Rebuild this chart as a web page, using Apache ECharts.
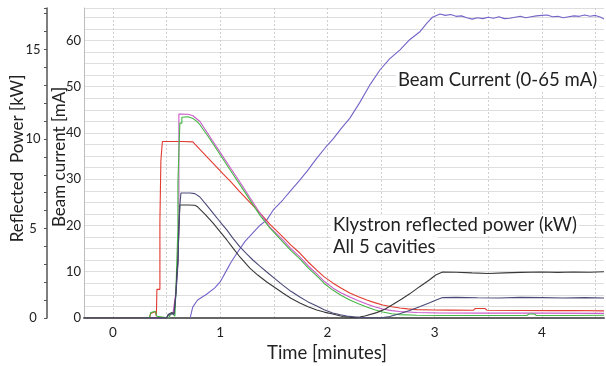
<!DOCTYPE html>
<html>
<head>
<meta charset="utf-8">
<script src="https://cdn.jsdelivr.net/npm/echarts@6/dist/echarts.min.js"></script>
<style>
  html, body { margin: 0; padding: 0; background: #fff; }
  #chart { width: 606px; height: 366px; }
</style>
</head>
<body>
<div id="chart"></div>
<script>
const FONT = 'Lato, "Open Sans", "Noto Sans", sans-serif';

// Axis ticks
const timeLabels = [0, 1, 2, 3, 4];
const timeGrid = [0, 0.5, 1, 1.5, 2, 2.5, 3, 3.5, 4, 4.5];
const powerLabels = [0, 5, 10, 15];
const currentLabels = [0, 10, 20, 30, 40, 50, 60];

// Beam current [mA] vs time [minutes]
const beamCurrent = [
  [0.72, 0], [0.735, 1.5], [0.745, 2.4], [0.79, 3.9], [0.876, 5.2], [0.95, 6.5], [1.0, 7.8],
  [1.062, 10.4], [1.10, 12.0], [1.156, 14.0], [1.23, 16.5], [1.305, 18.4], [1.37, 20.0],
  [1.435, 21.2], [1.50, 23.5], [1.584, 25.5], [1.66, 27.6], [1.743, 29.8], [1.82, 32.0],
  [1.90, 34.5], [1.98, 36.8], [2.05, 38.6], [2.13, 41.0], [2.21, 43.2], [2.30, 46.5],
  [2.40, 50.5], [2.49, 53.6], [2.58, 56.0], [2.675, 57.9], [2.77, 60.2], [2.86, 61.8],
  [2.93, 63.8], [2.98, 65.0], [3.05, 65.7], [3.10, 65.4], [3.15, 65.6], [3.20, 65.2],
  [3.25, 65.3], [3.30, 64.9], [3.35, 64.6], [3.40, 64.9], [3.45, 64.7], [3.50, 65.0],
  [3.55, 64.8], [3.60, 65.1], [3.65, 64.7], [3.70, 64.8], [3.75, 65.0], [3.80, 65.2],
  [3.85, 64.9], [3.90, 65.1], [3.95, 65.3], [4.00, 65.4], [4.05, 65.5], [4.10, 65.1],
  [4.15, 65.2], [4.20, 64.9], [4.25, 65.1], [4.30, 65.3], [4.35, 65.2], [4.40, 65.5],
  [4.45, 65.2], [4.50, 65.4], [4.55, 65.0], [4.58, 64.6]
];

// Klystron reflected power [kW], one trace per cavity
const cavityRed = [
  [-0.27, 0], [0.34, 0], [0.352, 0.25], [0.365, 0.35], [0.395, 0.35], [0.405, 0.1], [0.41, 0],
  [0.41, 1.6], [0.438, 1.6], [0.438, 5.4], [0.447, 5.4], [0.447, 8.8], [0.461, 8.8], [0.461, 9.86],
  [0.65, 9.86], [0.746, 9.84], [0.764, 9.72], [0.811, 9.42], [0.87, 9.05], [0.932, 8.65],
  [1.025, 8.06], [1.10, 7.6], [1.184, 7.05], [1.277, 6.46], [1.370, 5.87], [1.463, 5.25],
  [1.584, 4.53], [1.66, 4.07], [1.743, 3.63], [1.82, 3.13], [1.901, 2.68], [1.97, 2.3],
  [2.050, 1.96], [2.13, 1.66], [2.209, 1.40], [2.29, 1.19], [2.367, 1.01], [2.44, 0.86],
  [2.516, 0.73], [2.60, 0.63], [2.675, 0.56], [2.75, 0.51], [2.833, 0.47], [3.0, 0.45],
  [3.141, 0.44], [3.36, 0.43], [3.38, 0.53], [3.47, 0.53], [3.49, 0.43], [3.8, 0.42],
  [4.1, 0.41], [4.3, 0.42], [4.58, 0.40]
];
const cavityMagenta = [
  [-0.27, 0], [0.52, 0], [0.535, 0.2], [0.56, 0.28], [0.578, 0.2], [0.587, 1.4], [0.606, 3.2],
  [0.615, 5.1], [0.615, 11.4], [0.70, 11.38], [0.746, 11.3], [0.783, 11.12], [0.811, 10.98],
  [0.904, 10.13], [0.997, 9.28], [1.090, 8.44], [1.184, 7.60], [1.277, 6.73], [1.370, 5.87],
  [1.463, 5.08], [1.584, 4.36], [1.66, 3.88], [1.743, 3.41], [1.82, 2.92], [1.901, 2.46],
  [1.97, 2.05], [2.050, 1.68], [2.13, 1.40], [2.209, 1.17], [2.29, 0.96], [2.367, 0.78],
  [2.44, 0.63], [2.516, 0.50], [2.60, 0.41], [2.675, 0.36], [2.833, 0.31], [3.048, 0.28],
  [3.5, 0.27], [4.0, 0.27], [4.58, 0.26]
];
const cavityGreen = [
  [-0.27, 0], [0.34, 0], [0.352, 0.3], [0.365, 0.38], [0.395, 0.38], [0.41, 0.1], [0.42, 0],
  [0.52, 0], [0.535, 0.2], [0.555, 0.25], [0.57, 0.2], [0.578, 0.1], [0.587, 1.5], [0.596, 3.2],
  [0.606, 5.0], [0.606, 7.6], [0.624, 7.6], [0.624, 10.89], [0.643, 10.89], [0.643, 11.22],
  [0.70, 11.24], [0.746, 11.15], [0.783, 10.98], [0.811, 10.8], [0.904, 10.0], [0.997, 9.15],
  [1.090, 8.3], [1.184, 7.45], [1.277, 6.6], [1.370, 5.75], [1.463, 5.03], [1.584, 4.25],
  [1.66, 3.76], [1.743, 3.30], [1.82, 2.8], [1.901, 2.35], [1.97, 1.93], [2.050, 1.56],
  [2.13, 1.26], [2.209, 1.01], [2.29, 0.79], [2.367, 0.61], [2.44, 0.46], [2.516, 0.34],
  [2.60, 0.24], [2.675, 0.19], [2.833, 0.15], [3.048, 0.14], [3.5, 0.14], [3.86, 0.14],
  [3.88, 0.22], [3.93, 0.22], [3.95, 0.14], [4.3, 0.14], [4.58, 0.15]
];
const cavityBlack = [
  [-0.27, 0], [0.50, 0], [0.515, 0.2], [0.545, 0.3], [0.57, 0.25], [0.578, 0.28], [0.587, 1.4],
  [0.596, 2.5], [0.606, 3.2], [0.615, 5.1], [0.624, 5.1], [0.624, 6.31], [0.70, 6.31],
  [0.764, 6.30], [0.792, 6.20], [0.862, 5.78], [0.932, 5.31], [0.997, 4.84], [1.062, 4.36],
  [1.12, 3.90], [1.184, 3.41], [1.277, 2.79], [1.35, 2.40], [1.435, 2.01], [1.51, 1.70],
  [1.584, 1.40], [1.66, 1.10], [1.743, 0.84], [1.82, 0.63], [1.901, 0.45], [1.97, 0.33],
  [2.050, 0.22], [2.144, 0.08], [2.255, 0.02], [2.30, 0.05], [2.349, 0.11], [2.46, 0.3],
  [2.54, 0.5], [2.61, 0.75], [2.69, 1.05], [2.768, 1.35], [2.86, 1.75], [2.954, 2.14],
  [3.01, 2.4], [3.075, 2.57], [3.2, 2.56], [3.35, 2.52], [3.5, 2.49], [3.65, 2.52],
  [3.8, 2.55], [4.0, 2.57], [4.15, 2.55], [4.3, 2.57], [4.45, 2.56], [4.58, 2.58]
];
const cavityNavy = [
  [-0.27, 0], [0.50, 0], [0.515, 0.15], [0.545, 0.25], [0.57, 0.2], [0.578, 0.25], [0.587, 1.3],
  [0.606, 3.0], [0.615, 5.0], [0.624, 5.0], [0.624, 6.3], [0.634, 6.3], [0.634, 6.98],
  [0.72, 6.98], [0.764, 6.95], [0.811, 6.76], [0.87, 6.33], [0.932, 5.87], [0.997, 5.39],
  [1.062, 4.92], [1.12, 4.45], [1.184, 3.97], [1.245, 3.6], [1.305, 3.24], [1.37, 2.9],
  [1.435, 2.57], [1.51, 2.2], [1.584, 1.84], [1.66, 1.49], [1.743, 1.17], [1.82, 0.9],
  [1.901, 0.67], [1.97, 0.46], [2.050, 0.28], [2.12, 0.18], [2.181, 0.11], [2.302, 0.03],
  [2.442, 0.0], [2.52, 0.03], [2.582, 0.08], [2.68, 0.25], [2.768, 0.42], [2.86, 0.63],
  [2.954, 0.85], [3.02, 1.02], [3.075, 1.14], [3.2, 1.15], [3.4, 1.13], [3.6, 1.12],
  [3.8, 1.15], [4.0, 1.14], [4.2, 1.12], [4.4, 1.14], [4.58, 1.12]
];

function powerTrace(name, data, color) {
  return {
    name, type: 'line', yAxisIndex: 1, data, showSymbol: false, symbol: 'none',
    lineStyle: { color, width: 1.1 }, silent: true
  };
}

function note(text, x, y) {
  return {
    type: 'text', x, y, silent: true, z: 10,
    style: {
      text, font: '18.5px ' + FONT, fill: '#222', verticalAlign: 'middle',
      backgroundColor: '#fff', padding: [1, 2]
    }
  };
}

const chart = echarts.init(document.getElementById('chart'), null, { renderer: 'canvas' });
chart.setOption({
  animation: false,
  backgroundColor: '#fff',
  textStyle: { fontFamily: FONT },
  grid: { left: 84, right: 2, top: 8, bottom: 48, containLabel: false, outerBoundsMode: 'none' },
  xAxis: {
    type: 'value', min: -0.27, max: 4.58,
    name: 'Time [minutes]', nameLocation: 'middle', nameGap: 26, nameMoveOverlap: false,
    nameTextStyle: { fontSize: 18.5, color: '#222', fontFamily: FONT, padding: [0, 34, 0, 0] },
    axisLine: { show: true, onZero: false, lineStyle: { color: '#666', width: 2 } },
    axisTick: { show: false, customValues: timeGrid },
    axisLabel: { customValues: timeLabels, fontSize: 13.5, color: '#222', margin: 8, fontFamily: FONT },
    splitLine: { show: true, lineStyle: { color: '#cfcfcf', type: [2, 2], width: 1 } }
  },
  yAxis: [
    {
      type: 'value', position: 'left', min: 0, max: 67, interval: 2.5,
      name: 'Beam current [mA]', nameLocation: 'middle', nameGap: 16, nameRotate: 90,
      nameMoveOverlap: false,
      nameTextStyle: { fontSize: 17, color: '#222', fontFamily: FONT, padding: [0, 0, 0, 12] },
      axisLine: { show: true, onZero: false, lineStyle: { color: '#bdbdbd', width: 1 } },
      axisTick: { show: false },
      axisLabel: {
        fontSize: 13, color: '#222', margin: 3, fontFamily: FONT,
        formatter: v => currentLabels.includes(v) ? String(v) : ''
      },
      splitLine: { show: true, lineStyle: { color: '#dedede', width: 1 } }
    },
    {
      type: 'value', position: 'left', offset: 37, min: 0, max: 17.32, interval: 1,
      name: 'Reflected  Power [kW]', nameLocation: 'middle', nameGap: 21, nameRotate: 90,
      nameMoveOverlap: false,
      nameTextStyle: { fontSize: 17, color: '#222', fontFamily: FONT, padding: [0, 0, 0, 9] },
      axisLine: { show: true, onZero: false, lineStyle: { color: '#555', width: 1.5 } },
      axisTick: { show: true, length: 3, lineStyle: { color: '#555', width: 1 } },
      axisLabel: {
        fontSize: 13, color: '#222', margin: 14, align: 'center', fontFamily: FONT,
        formatter: v => powerLabels.includes(v) ? String(v) : ''
      },
      splitLine: { show: false }
    }
  ],
  series: [
    {
      name: 'Beam current', type: 'line', yAxisIndex: 0, data: beamCurrent,
      showSymbol: false, symbol: 'none', silent: true,
      lineStyle: { color: '#7264c8', width: 1.1 }
    },
    powerTrace('Cavity 1', cavityRed, '#e23b30'),
    powerTrace('Cavity 2', cavityMagenta, '#c95ac9'),
    powerTrace('Cavity 3', cavityGreen, '#45b845'),
    powerTrace('Cavity 4', cavityBlack, '#383838'),
    powerTrace('Cavity 5', cavityNavy, '#4a4a78')
  ],
  graphic: [
    note('Beam Current (0-65 mA)', 396, 80),
    note('Klystron reflected power (kW)', 331, 225),
    note('All 5 cavities', 331, 247)
  ]
});
</script>
</body>
</html>
